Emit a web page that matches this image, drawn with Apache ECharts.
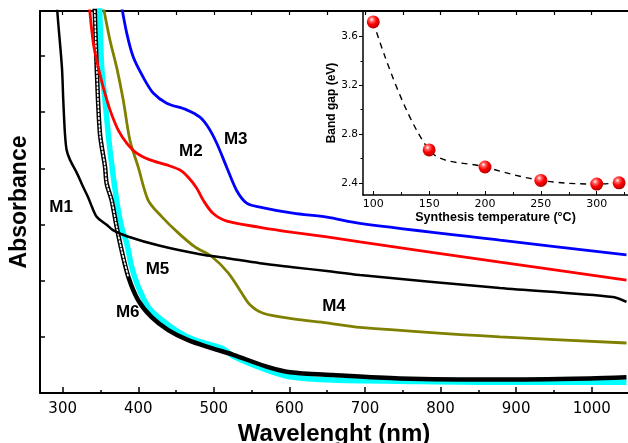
<!DOCTYPE html>
<html>
<head>
<meta charset="utf-8">
<script src="https://cdn.jsdelivr.net/npm/echarts@6/dist/echarts.min.js"></script>
<style>
  html, body { margin: 0; padding: 0; background: #fff; }
  #chart { width: 628px; height: 443px; }
</style>
</head>
<body>
<div id="chart"></div>
<script>
// UV-Vis absorption spectra of samples M1..M6 (wavelength in nm, absorbance in arbitrary units)
const m1Nm  = [291.8, 293.8, 299, 300.8, 303, 305.3, 309.7, 319, 327, 333.5, 338.8, 345.4, 358.6, 366.5, 385, 428.7, 481.6, 517.3, 561, 604.6, 649.6, 693, 878.6, 1028, 1046];
const m1Abs = [7.0, 6.64, 5.80, 5.21, 4.62, 4.32, 4.15, 3.91, 3.67, 3.49, 3.31, 3.13, 2.99, 2.90, 2.79, 2.62, 2.47, 2.40, 2.31, 2.24, 2.17, 2.10, 1.87, 1.71, 1.62];

const m2Nm  = [334.5, 340.5, 347, 353.7, 362.6, 373.5, 384.7, 397.9, 415.5, 437.6, 455.2, 466.1, 477.2, 486, 498.8, 517.3, 561, 604.6, 649.6, 693.3, 878.6, 1046];
const m2Abs = [7.0, 6.23, 5.80, 5.44, 5.04, 4.68, 4.45, 4.27, 4.15, 4.06, 3.97, 3.84, 3.65, 3.43, 3.20, 3.06, 2.95, 2.86, 2.78, 2.69, 2.33, 2.01];

const m3Nm  = [376.5, 384.7, 393.4, 406.6, 419.8, 437.6, 464, 481.6, 492.6, 503.7, 517, 530, 543.4, 561, 604.6, 649.6, 693.3, 878.6, 1046];
const m3Abs = [7.0, 6.41, 5.98, 5.62, 5.34, 5.16, 5.04, 4.91, 4.73, 4.45, 4.02, 3.61, 3.38, 3.31, 3.20, 3.13, 3.02, 2.72, 2.46];

const m4Nm  = [352, 362.6, 371.4, 380.2, 389, 400, 413.2, 431, 452.9, 475, 497.1, 519, 534.5, 547.8, 565.3, 605, 649.2, 693.3, 878.6, 1046];
const m4Abs = [7.0, 6.28, 5.80, 5.21, 4.50, 4.02, 3.43, 3.14, 2.85, 2.60, 2.43, 2.14, 1.83, 1.57, 1.42, 1.32, 1.25, 1.17, 1.00, 0.89];

const m5Nm  = [348.7, 351.6, 356, 362.6, 371.4, 378, 384.7, 391.3, 400, 413.2, 431, 452.9, 475, 510.3, 525.3, 569.8, 600.7, 657.5, 746.2, 878.6, 1046];
const m5Abs = [7.0, 5.80, 5.21, 4.32, 3.43, 2.95, 2.67, 2.24, 1.89, 1.53, 1.30, 1.09, 0.94, 0.80, 0.66, 0.41, 0.29, 0.23, 0.21, 0.19, 0.19];

const m6Nm  = [342, 345, 349.3, 356, 358.2, 364.8, 371.4, 378, 386.8, 400, 417.7, 439.7, 466.1, 497, 525.7, 569.8, 600.7, 657.9, 746.2, 878.6, 997.6, 1046];
const m6Abs = [7.0, 5.81, 4.62, 4.03, 3.73, 3.43, 2.96, 2.54, 2.07, 1.65, 1.35, 1.12, 0.94, 0.80, 0.68, 0.47, 0.37, 0.32, 0.26, 0.24, 0.26, 0.28];

// curve annotations
const tagNames = ['M1', 'M2', 'M3', 'M4', 'M5', 'M6'];
const tagNm    = [298, 469.5, 529, 659, 425.4, 386.1];
const tagAbs   = [3.30, 4.31, 4.51, 1.55, 2.21, 1.43];

// wavelength tick labels
const nmTicks = [300, 400, 500, 600, 700, 800, 900, 1000];
const nmMinorTicks = [350, 450, 550, 650, 750, 850, 950, 1050];
const nmTopTicks = [300, 350, 400, 450, 500, 550, 600, 650, 700, 750, 800, 850, 900, 950, 1000];

// inset: optical band gap versus synthesis temperature
const synthTemp = [100, 150, 200, 250, 300, 320];
const bandGap   = [3.72, 2.67, 2.53, 2.42, 2.39, 2.40];
const tempTicks = [100, 150, 200, 250, 300];
const tempMinorTicks = [125, 175, 225, 275, 325];
const gapTicks = [2.4, 2.8, 3.2, 3.6];
const gapMinorTicks = [2.6, 3.0, 3.4];

const zip = (xs, ys) => xs.map((x, i) => [x, ys[i]]);
const chainLen = 9; // leading points of M6 drawn as open-circle chain

const FONT = '"Liberation Sans", Arial, sans-serif';
const NUMFONT = '"DejaVu Sans", sans-serif';

const chart = echarts.init(document.getElementById('chart'), null, { renderer: 'canvas' });

const baseCurve = (name, data, color, width, z) => ({
  name, type: 'line', xAxisIndex: 0, yAxisIndex: 0,
  data, showSymbol: false, symbol: 'none', smooth: 0.3,
  lineStyle: { color, width }, z, clip: true, animation: false
});

const sphere = {
  type: 'radial', x: 0.38, y: 0.32, r: 0.7,
  colorStops: [
    { offset: 0, color: '#ffffff' },
    { offset: 0.22, color: '#ff6a6a' },
    { offset: 0.55, color: '#ff0000' },
    { offset: 1, color: '#b00000' }
  ]
};

chart.setOption({
  animation: false,
  backgroundColor: '#fff',
  grid: [
    { left: 40, top: 11, right: 0, bottom: 50, outerBoundsMode: 'none', containLabel: false },
    { left: 363, top: 11, right: 0, bottom: 248, outerBoundsMode: 'none', containLabel: false }
  ],
  xAxis: [
    { // main bottom axis with labels
      type: 'value', gridIndex: 0, min: 270, max: 1048, position: 'bottom',
      axisLine: { show: true, onZero: false, lineStyle: { color: '#000', width: 2 } },
      axisTick: { show: true, inside: true, length: 6, customValues: nmTicks, lineStyle: { color: '#000', width: 1.5 } },
      axisLabel: { show: true, customValues: nmTicks, margin: 9, color: '#000', fontSize: 15, fontFamily: NUMFONT,
                   formatter: v => String(v) },
      splitLine: { show: false },
      name: 'Wavelenght (nm)', nameLocation: 'middle', nameGap: 27,
      nameTextStyle: { color: '#000', fontSize: 24, fontWeight: 'bold', fontFamily: FONT }
    },
    { // main bottom axis minor ticks
      type: 'value', gridIndex: 0, min: 270, max: 1048, position: 'bottom', offset: 0,
      axisLine: { show: false, onZero: false },
      axisTick: { show: true, inside: true, length: 3, customValues: nmMinorTicks, lineStyle: { color: '#000', width: 1.5 } },
      axisLabel: { show: false }, splitLine: { show: false }
    },
    { // main top frame axis
      type: 'value', gridIndex: 0, min: 270, max: 1048, position: 'top',
      axisLine: { show: true, onZero: false, lineStyle: { color: '#000', width: 2 } },
      axisTick: { show: true, inside: true, length: 4, customValues: nmTopTicks, lineStyle: { color: '#000', width: 1.2 } },
      axisLabel: { show: false }, splitLine: { show: false }
    },
    { // inset temperature axis
      type: 'value', gridIndex: 1, min: 90.8, max: 328, position: 'bottom',
      axisLine: { show: true, onZero: false, lineStyle: { color: '#000', width: 1.5 } },
      axisTick: { show: true, inside: true, length: 4, customValues: tempTicks, lineStyle: { color: '#000', width: 1 } },
      axisLabel: { show: true, customValues: tempTicks, margin: 4, color: '#000', fontSize: 11, fontFamily: NUMFONT },
      splitLine: { show: false },
      name: 'Synthesis temperature (°C)', nameLocation: 'middle', nameGap: 14,
      nameTextStyle: { color: '#000', fontSize: 12.5, fontWeight: 'bold', fontFamily: FONT }
    },
    { // inset minor ticks
      type: 'value', gridIndex: 1, min: 90.8, max: 328, position: 'bottom', offset: 0,
      axisLine: { show: false, onZero: false },
      axisTick: { show: true, inside: true, length: 3, customValues: tempMinorTicks, lineStyle: { color: '#000', width: 1 } },
      axisLabel: { show: false }, splitLine: { show: false }
    }
  ],
  yAxis: [
    { // absorbance (no numeric labels)
      type: 'value', gridIndex: 0, min: 0, max: 6.8, interval: 1, position: 'left',
      axisLine: { show: true, onZero: false, lineStyle: { color: '#000', width: 2 } },
      axisTick: { show: true, inside: true, length: 5, lineStyle: { color: '#000', width: 1.5 } },
      axisLabel: { show: false }, splitLine: { show: false },
      name: 'Absorbance', nameLocation: 'middle', nameGap: 9, nameRotate: 90,
      nameTextStyle: { color: '#000', fontSize: 23, fontWeight: 'bold', fontFamily: FONT }
    },
    { // inset band gap axis
      type: 'value', gridIndex: 1, min: 2.3, max: 3.81, position: 'left',
      axisLine: { show: true, onZero: false, lineStyle: { color: '#000', width: 1.5 } },
      axisTick: { show: true, inside: false, length: 4, customValues: gapTicks, lineStyle: { color: '#000', width: 1 } },
      axisLabel: { show: true, customValues: gapTicks, margin: 5, color: '#000', fontSize: 10.5, fontFamily: NUMFONT,
                   formatter: v => v.toFixed(1) },
      splitLine: { show: false },
      name: 'Band gap (eV)', nameLocation: 'middle', nameGap: 22, nameRotate: 90,
      nameTextStyle: { color: '#000', fontSize: 12, fontWeight: 'bold', fontFamily: FONT }
    },
    { // inset minor ticks
      type: 'value', gridIndex: 1, min: 2.3, max: 3.81, position: 'left', offset: 0,
      axisLine: { show: false, onZero: false },
      axisTick: { show: true, inside: false, length: 2.5, customValues: gapMinorTicks, lineStyle: { color: '#000', width: 1 } },
      axisLabel: { show: false }, splitLine: { show: false }
    }
  ],
  series: [
    baseCurve('M5', zip(m5Nm, m5Abs), '#00ffff', 5.5, 2),
    baseCurve('M6', zip(m6Nm, m6Abs), '#000000', 4.5, 3),
    Object.assign(baseCurve('M6 chain', zip(m6Nm.slice(0, chainLen), m6Abs.slice(0, chainLen)), '#ffffff', 1.6, 4),
      { lineStyle: { color: '#ffffff', width: 1.6, type: [1.6, 2.2], cap: 'round' } }),
    baseCurve('M4', zip(m4Nm, m4Abs), '#808000', 2.8, 5),
    baseCurve('M2', zip(m2Nm, m2Abs), '#ff0000', 2.8, 5),
    baseCurve('M3', zip(m3Nm, m3Abs), '#0000ff', 2.8, 5),
    baseCurve('M1', zip(m1Nm, m1Abs), '#000000', 2.5, 6),
    {
      name: 'tags', type: 'scatter', xAxisIndex: 0, yAxisIndex: 0, z: 10,
      data: tagNames.map((n, i) => ({ value: [tagNm[i], tagAbs[i]], name: n })),
      symbolSize: 0, silent: true,
      itemStyle: { opacity: 1 },
      label: { show: true, position: 'inside', formatter: p => p.name, color: '#000', opacity: 1,
               textBorderWidth: 0, fontSize: 17, fontWeight: 'bold', fontFamily: FONT }
    },
    {
      name: 'Band gap', type: 'line', xAxisIndex: 3, yAxisIndex: 1, z: 20,
      data: zip(synthTemp, bandGap), smooth: 0.35,
      lineStyle: { color: '#000', width: 1.4, type: [6, 5] },
      symbol: 'circle', symbolSize: 13, showSymbol: true,
      itemStyle: { color: sphere, borderWidth: 0 }
    }
  ]
});
</script>
</body>
</html>
